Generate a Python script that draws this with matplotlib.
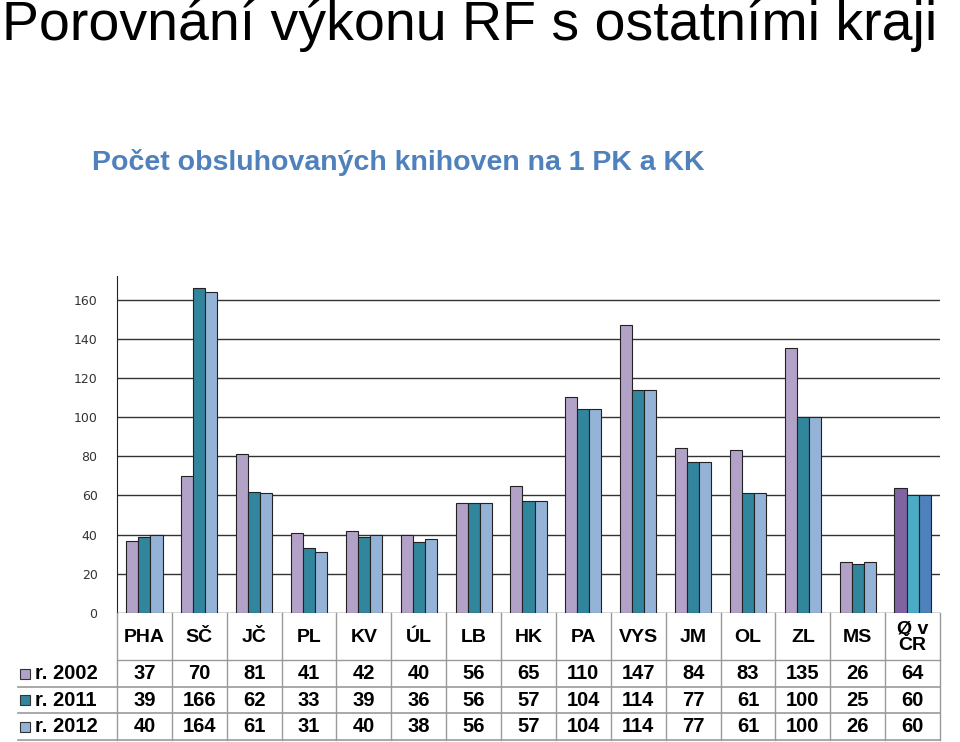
import matplotlib
matplotlib.use("Agg")
import matplotlib.pyplot as plt
import numpy as np

regions = ["PHA", "SČ", "JČ", "PL", "KV", "ÚL", "LB", "HK", "PA", "VYS", "JM", "OL", "ZL", "MS", "Ø v\nČR"]
series_names = ["r. 2002", "r. 2011", "r. 2012"]
v2002 = [37, 70, 81, 41, 42, 40, 56, 65, 110, 147, 84, 83, 135, 26, 64]
v2011 = [39, 166, 62, 33, 39, 36, 56, 57, 104, 114, 77, 61, 100, 25, 60]
v2012 = [40, 164, 61, 31, 40, 38, 56, 57, 104, 114, 77, 61, 100, 26, 60]
yticks = [0, 20, 40, 60, 80, 100, 120, 140, 160]

colors = ["#B3A2C7", "#31859C", "#95B3D7"]
avg_colors = ["#8064A2", "#4BACC6", "#4F81BD"]

W, H = 960, 742
fig = plt.figure(figsize=(9.6, 7.42), dpi=100)
fig.patch.set_facecolor("white")

def fx(px): return px / W
def fy(py): return 1 - py / H

x0, x1, ytop, ybot = 117, 940, 276, 613
ax = fig.add_axes([fx(x0), fy(ybot), fx(x1) - fx(x0), (ybot - ytop) / H])
n = len(regions)
x = np.arange(n)
bw = 0.22
allvals = [v2002, v2011, v2012]
for i, vals in enumerate(allvals):
    cols = [colors[i]] * (n - 1) + [avg_colors[i]]
    ax.bar(x + (i - 1) * bw, vals, bw, color=cols, edgecolor="#222222", linewidth=0.8, zorder=3)
ax.set_xlim(-0.5, n - 0.5)
ax.set_ylim(0, 172)
ax.set_yticks(yticks)
ax.set_yticklabels([str(t) for t in yticks], fontsize=9, color="#333333")
ax.tick_params(axis="y", length=0, pad=14)
ax.set_xticks([])
ax.grid(axis="y", color="#333333", linewidth=1, zorder=0)
for s in ["top", "right", "bottom"]:
    ax.spines[s].set_visible(False)
ax.spines["left"].set_color("#222222")

ov = fig.add_axes([0, 0, 1, 1], facecolor="none")
ov.set_xlim(0, W); ov.set_ylim(H, 0); ov.axis("off")

ov.text(2, 26, "Porovnání výkonu RF s ostatními kraji", fontsize=40, fontfamily="Liberation Sans", va="center", ha="left")
ov.text(92, 162, "Počet obsluhovaných knihoven na 1 PK a KK", fontsize=20.5, fontweight="bold",
        color="#4F81BD", fontfamily="Liberation Sans", va="center", ha="left")

cw = (x1 - x0) / n
rows_y = [613, 660, 687, 713, 740]
gray = "#999999"
for k in range(n + 1):
    xx = x0 + k * cw
    ov.plot([xx, xx], [613, 740], color=gray, lw=1)
ov.plot([x0, x1], [660, 660], color=gray, lw=1)
for yy in rows_y[2:]:
    ov.plot([18, x1], [yy, yy], color=gray, lw=1.2)
for k, r in enumerate(regions):
    cx = x0 + (k + 0.5) * cw
    ov.text(cx, 637, r, ha="center", va="center", fontsize=14, fontweight="bold",
            fontfamily="Liberation Sans", linespacing=0.95)
    for j, vals in enumerate(allvals):
        cy = (rows_y[j + 1] + rows_y[j + 2]) / 2
        ov.text(cx, cy, str(vals[k]), ha="center", va="center", fontsize=14.5, fontweight="bold",
                fontfamily="Liberation Sans")
for j, name in enumerate(series_names):
    cy = (rows_y[j + 1] + rows_y[j + 2]) / 2
    ov.add_patch(plt.Rectangle((20, cy - 5), 10, 10, facecolor=colors[j], edgecolor="#333333", lw=0.8))
    ov.text(35, cy, name, ha="left", va="center", fontsize=14.5, fontweight="bold", fontfamily="Liberation Sans")

fig.savefig("out.png", dpi=100)
